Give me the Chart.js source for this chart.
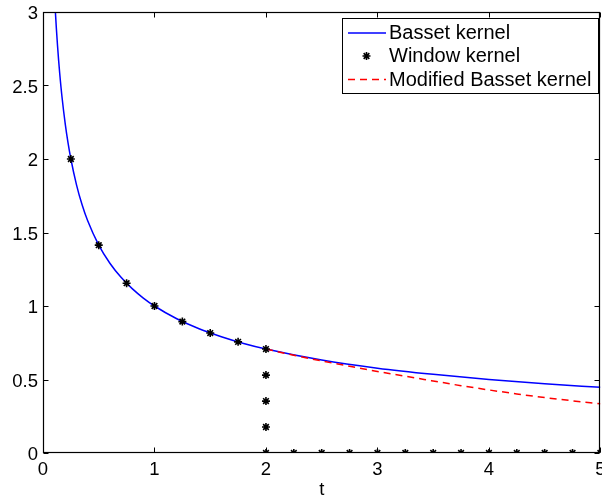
<!DOCTYPE html>
<html>
<head>
<meta charset="utf-8">
<script src="https://cdn.jsdelivr.net/npm/chart.js@4"></script>
<style>
  html, body { margin: 0; padding: 0; background: #fff; overflow: hidden; }
  canvas { display: block; }
</style>
</head>
<body>
<canvas id="chart" width="606" height="500"></canvas>
<script>
// values
const bassetT = [0.11, 0.12, 0.13, 0.14, 0.15, 0.17, 0.2, 0.225, 0.25, 0.3, 0.35, 0.4, 0.5, 0.6, 0.7, 0.8, 0.9, 1.0, 1.2, 1.4, 1.6, 1.8, 2.0, 2.5, 3.0, 3.5, 4.0, 4.5, 5.0];
const bassetY = [3.015, 2.887, 2.774, 2.673, 2.582, 2.425, 2.236, 2.108, 2.0, 1.826, 1.690, 1.581, 1.414, 1.291, 1.195, 1.118, 1.054, 1.0, 0.913, 0.845, 0.791, 0.745, 0.707, 0.632, 0.577, 0.535, 0.5, 0.471, 0.447];

const windowT = [0.25, 0.5, 0.75, 1.0, 1.25, 1.5, 1.75, 2.0, 2.0, 2.0, 2.0, 2.0, 2.25, 2.5, 2.75, 3.0, 3.25, 3.5, 3.75, 4.0, 4.25, 4.5, 4.75, 5.0];
const windowY = [2.0, 1.414, 1.155, 1.0, 0.894, 0.816, 0.756, 0.707, 0.53, 0.353, 0.177, 0, 0, 0, 0, 0, 0, 0, 0, 0, 0, 0, 0, 0];

const modT = [2.0, 2.25, 2.5, 2.75, 3.0, 3.25, 3.5, 3.75, 4.0, 4.25, 4.5, 4.75, 5.0];
const modY = [0.707, 0.665, 0.626, 0.590, 0.555, 0.522, 0.490, 0.458, 0.429, 0.402, 0.377, 0.355, 0.335];

const xTicks = [0, 1, 2, 3, 4, 5];
const yTicks = [0, 0.5, 1, 1.5, 2, 2.5, 3];

const pts = (xs, ys) => xs.map((x, i) => ({x: x, y: ys[i]}));

const FONT = "'Liberation Sans', Arial, Helvetica, sans-serif";

// MATLAB style box with inward ticks on all four sides
const boxPlugin = {
  id: 'box',
  afterDraw(chart) {
    const {ctx, chartArea: a, scales: {x, y}} = chart;
    const L = Math.round(a.left) + 0.5, R = Math.round(a.right) - 0.5;
    const T = Math.round(a.top) + 0.5, B = Math.round(a.bottom) - 0.5;
    ctx.save();
    ctx.strokeStyle = '#000';
    ctx.lineWidth = 1;
    ctx.beginPath();
    xTicks.forEach(v => {
      const px = Math.round(x.getPixelForValue(v)) + 0.5;
      ctx.moveTo(px, B); ctx.lineTo(px, B - 5);
      ctx.moveTo(px, T); ctx.lineTo(px, T + 5);
    });
    yTicks.forEach(v => {
      const py = Math.round(y.getPixelForValue(v)) + 0.5;
      ctx.moveTo(L, py); ctx.lineTo(L + 5, py);
      ctx.moveTo(R, py); ctx.lineTo(R - 5, py);
    });
    ctx.stroke();
    ctx.lineWidth = 1.2;
    ctx.strokeRect(L, T, R - L, B - T);
    ctx.restore();
  }
};

// legend box inside the top right corner
const legendPlugin = {
  id: 'mlegend',
  afterDraw(chart) {
    const {ctx} = chart;
    const bx = 342, by = 18, bw = 256, bh = 75;
    ctx.save();
    ctx.fillStyle = '#fff';
    ctx.fillRect(bx, by, bw, bh);
    ctx.strokeStyle = '#000';
    ctx.lineWidth = 1;
    ctx.strokeRect(bx + 0.5, by + 0.5, bw, bh);
    const rows = [33, 56, 79.5];
    chart.data.datasets.forEach((ds, i) => {
      const yy = rows[i];
      ctx.save();
      ctx.strokeStyle = ds.borderColor;
      ctx.lineWidth = ds.borderWidth;
      ctx.beginPath();
      if (ds.showLine === false) {
        const r = ds.pointRadius, c = 366.5;
        const d = r * 0.707;
        ctx.moveTo(c - r, yy); ctx.lineTo(c + r, yy);
        ctx.moveTo(c, yy - r); ctx.lineTo(c, yy + r);
        ctx.moveTo(c - d, yy - d); ctx.lineTo(c + d, yy + d);
        ctx.moveTo(c - d, yy + d); ctx.lineTo(c + d, yy - d);
      } else {
        ctx.setLineDash(ds.borderDash || []);
        ctx.moveTo(348, yy); ctx.lineTo(386, yy);
      }
      ctx.stroke();
      ctx.restore();
      ctx.fillStyle = '#000';
      ctx.font = '20px ' + FONT;
      ctx.textBaseline = 'middle';
      ctx.textAlign = 'left';
      ctx.fillText(ds.label, 389, yy + 0.5);
    });
    ctx.restore();
  }
};

new Chart(document.getElementById('chart'), {
  type: 'scatter',
  data: {
    datasets: [
      {
        label: 'Basset kernel',
        data: pts(bassetT, bassetY),
        showLine: true,
        borderColor: '#0000ff',
        borderWidth: 1.5,
        pointRadius: 0,
        cubicInterpolationMode: 'monotone',
        order: 3
      },
      {
        label: 'Window kernel',
        data: pts(windowT, windowY),
        showLine: false,
        pointStyle: 'star',
        pointRadius: 4,
        borderColor: '#000',
        backgroundColor: '#000',
        borderWidth: 1.6,
        order: 1
      },
      {
        label: 'Modified Basset kernel',
        data: pts(modT, modY),
        showLine: true,
        borderColor: '#ff0000',
        borderWidth: 1.5,
        borderDash: [7, 5],
        pointRadius: 0,
        cubicInterpolationMode: 'monotone',
        order: 2
      }
    ]
  },
  options: {
    responsive: false,
    animation: false,
    events: [],
    layout: { padding: { top: 12, right: 3, left: 0, bottom: 0 } },
    plugins: { legend: { display: false }, tooltip: { enabled: false } },
    scales: {
      x: {
        type: 'linear',
        min: 0,
        max: 5,
        afterBuildTicks: s => { s.ticks = xTicks.map(v => ({value: v})); },
        afterFit: s => { s.height = 47; s.paddingLeft = 0; s.paddingRight = 0; },
        grid: { display: false, drawTicks: false },
        border: { display: false },
        ticks: { color: '#000', padding: 6, maxRotation: 0, callback: v => String(v), font: { family: FONT, size: 18.5 } },
        title: { display: true, text: 't', color: '#000', padding: 0, font: { family: FONT, size: 18.5, lineHeight: 1.1 } }
      },
      y: {
        min: 0,
        max: 3,
        afterBuildTicks: s => { s.ticks = yTicks.map(v => ({value: v})); },
        afterFit: s => { s.width = 43; s.paddingTop = 0; s.paddingBottom = 0; },
        grid: { display: false, drawTicks: false },
        border: { display: false },
        ticks: { color: '#000', padding: 5, labelOffset: 2, callback: v => String(v), font: { family: FONT, size: 18.5 } }
      }
    }
  },
  plugins: [boxPlugin, legendPlugin]
});
</script>
</body>
</html>
